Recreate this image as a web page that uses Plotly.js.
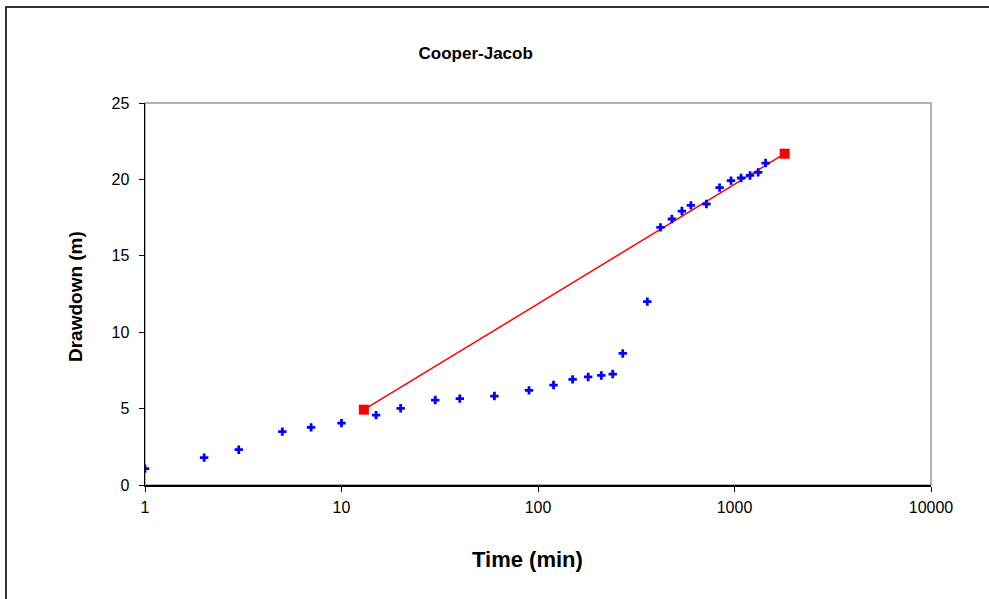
<!DOCTYPE html>
<html>
<head>
<meta charset="utf-8">
<script src="https://cdn.plot.ly/plotly-3.0.1.min.js"></script>
<style>
html,body{margin:0;padding:0;background:#fff;overflow:hidden;}
#chart{width:989px;height:599px;position:absolute;left:0;top:0;}
#frame{position:absolute;left:5px;top:6px;width:1000px;height:700px;border-left:2px solid #333;border-top:2px solid #333;pointer-events:none;}
</style>
</head>
<body>
<div id="chart"></div>
<div id="frame"></div>
<script>
// Observed data
const timeMin = [1, 2, 3, 5, 7, 10, 15, 20, 30, 40, 60, 90, 120, 150, 180, 210, 240, 270, 360,
                 420, 480, 540, 600, 720, 840, 960, 1080, 1200, 1320, 1440];
const drawdownM = [1.07, 1.79, 2.31, 3.49, 3.77, 4.05, 4.57, 5.02, 5.56, 5.65, 5.82, 6.19, 6.54, 6.91, 7.07, 7.17, 7.26, 8.61, 12.0,
                   16.86, 17.41, 17.93, 18.30, 18.39, 19.46, 19.92, 20.09, 20.26, 20.46, 21.07];
// Cooper-Jacob fitted straight line
const fitTime = [13, 1800];
const fitDrawdown = [4.93, 21.68];
const xTickVals = [1, 10, 100, 1000, 10000];
const xTickText = ['1', '10', '100', '1000', '10000'];

const FF = 'Liberation Sans, Arial, sans-serif';
const axisFont = {family: FF, size: 16, color: '#000'};

const traces = [
  {
    x: fitTime, y: fitDrawdown, type: 'scatter', mode: 'lines+markers',
    line: {color: '#FF0000', width: 1.5},
    marker: {symbol: 'square', size: 10, color: '#FF0000'},
    showlegend: false
  },
  {
    x: timeMin, y: drawdownM, type: 'scatter', mode: 'markers',
    marker: {symbol: 'cross', size: 7, color: '#0000FF'},
    showlegend: false
  }
];

const layout = {
  width: 989, height: 599,
  margin: {l: 145, r: 57.5, t: 103, b: 114, pad: 0},
  paper_bgcolor: '#fff', plot_bgcolor: '#fff',
  title: {
    text: '<b>Cooper-Jacob</b>',
    font: {family: FF, size: 17, color: '#000'},
    xref: 'container', yref: 'container', x: 0.481, y: 1 - 53/599,
    xanchor: 'center', yanchor: 'middle'
  },
  xaxis: {
    type: 'log', range: [0, 4],
    tickvals: xTickVals, ticktext: xTickText,
    ticks: 'outside', ticklen: 5, tickwidth: 1, tickcolor: '#000',
    showline: true, linecolor: '#000', linewidth: 1.5,
    showgrid: false, zeroline: false,
    tickfont: axisFont, ticklabelstandoff: 2
  },
  yaxis: {
    range: [0, 25], dtick: 5,
    ticks: 'outside', ticklen: 5, tickwidth: 1, tickcolor: '#000',
    showline: true, linecolor: '#000', linewidth: 1.5,
    showgrid: false, zeroline: false,
    tickfont: axisFont, ticklabelstandoff: 6
  },
  annotations: [
    {text: '<b>Time (min)</b>', xref: 'paper', yref: 'paper', x: (528-145)/786.5, y: (485-559)/382,
     xanchor: 'center', yanchor: 'middle', showarrow: false, font: {family: FF, size: 22, color: '#000'}},
    {text: '<b>Drawdown (m)</b>', xref: 'paper', yref: 'paper', x: (75-145)/786.5, y: (485-297)/382,
     xanchor: 'center', yanchor: 'middle', showarrow: false, textangle: -90, font: {family: FF, size: 19, color: '#000'}}
  ],
  shapes: [{
    type: 'rect', xref: 'paper', yref: 'paper', x0: 0, x1: 1, y0: 0, y1: 1,
    line: {color: '#999', width: 1.5}, layer: 'below'
  }]
};

Plotly.newPlot('chart', traces, layout, {displayModeBar: false, staticPlot: true});
</script>
</body>
</html>
